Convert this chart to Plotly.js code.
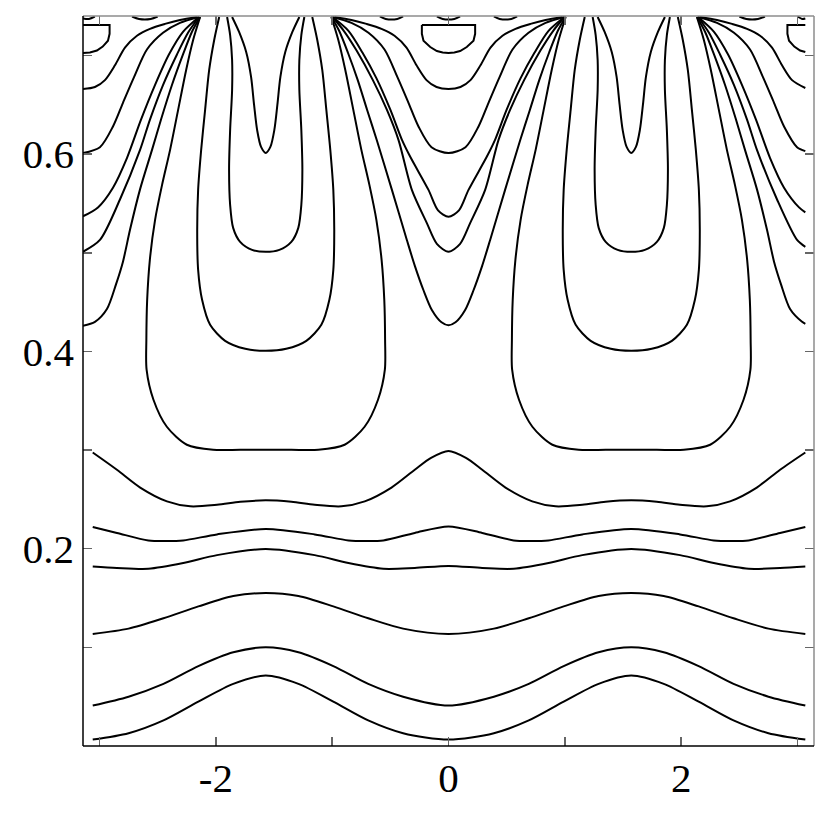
<!DOCTYPE html>
<html>
<head>
<meta charset="utf-8">
<script src="https://cdn.plot.ly/plotly-3.0.1.min.js"></script>
<style>
  html, body { margin: 0; padding: 0; background: #fff; }
  #chart { width: 830px; height: 830px; }
</style>
</head>
<body>
<div id="chart"></div>
<script>
// --- DATA: contour lines as [x, y] pairs ---

// wavy lines across the bottom
const wave1 = [[-3.058,0.0065],[-2.75,0.013],[-2.45,0.026],[-2.15,0.045],[-1.85,0.063],[-1.571,0.0715],[-1.29,0.063],[-0.99,0.045],[-0.69,0.026],[-0.39,0.013],[0,0.0065],[0.39,0.013],[0.69,0.026],[0.99,0.045],[1.29,0.063],[1.571,0.0715],[1.85,0.063],[2.15,0.045],[2.45,0.026],[2.75,0.013],[3.067,0.0065]];
const wave2 = [[-3.058,0.041],[-2.75,0.050],[-2.45,0.063],[-2.15,0.081],[-1.85,0.095],[-1.571,0.100],[-1.29,0.095],[-0.99,0.081],[-0.69,0.063],[-0.39,0.050],[0,0.041],[0.39,0.050],[0.69,0.063],[0.99,0.081],[1.29,0.095],[1.571,0.100],[1.85,0.095],[2.15,0.081],[2.45,0.063],[2.75,0.050],[3.067,0.041]];
const wave3 = [[-3.058,0.1136],[-2.75,0.119],[-2.45,0.1295],[-2.15,0.1415],[-1.85,0.152],[-1.571,0.155],[-1.29,0.152],[-0.99,0.1415],[-0.69,0.1295],[-0.39,0.119],[0,0.1135],[0.39,0.119],[0.69,0.1295],[0.99,0.1415],[1.29,0.152],[1.571,0.155],[1.85,0.152],[2.15,0.1415],[2.45,0.1295],[2.75,0.119],[3.067,0.1136]];
const wave4 = [[-3.058,0.182],[-2.85,0.1805],[-2.58,0.1797],[-2.28,0.1855],[-1.99,0.1935],[-1.571,0.1997],[-1.15,0.1935],[-0.86,0.1855],[-0.56,0.1797],[-0.29,0.1805],[0,0.1825],[0.29,0.1805],[0.56,0.1797],[0.86,0.1855],[1.15,0.1935],[1.571,0.1997],[1.99,0.1935],[2.28,0.1855],[2.58,0.1797],[2.85,0.1805],[3.067,0.182]];
const wave5 = [[-3.058,0.222],[-2.85,0.216],[-2.58,0.2084],[-2.43,0.2078],[-2.28,0.2084],[-1.99,0.2145],[-1.571,0.220],[-1.15,0.2145],[-0.86,0.2084],[-0.71,0.2078],[-0.56,0.2084],[-0.29,0.216],[0,0.2226],[0.29,0.216],[0.56,0.2084],[0.71,0.2078],[0.86,0.2084],[1.15,0.2145],[1.571,0.220],[1.99,0.2145],[2.28,0.2084],[2.43,0.2078],[2.58,0.2084],[2.85,0.216],[3.067,0.222]];
const wave6 = [[-3.058,0.2975],[-2.85,0.280],[-2.65,0.262],[-2.42,0.248],[-2.22,0.243],[-1.99,0.2445],[-1.79,0.2475],[-1.571,0.249],[-1.35,0.2475],[-1.15,0.2445],[-0.92,0.243],[-0.72,0.248],[-0.49,0.262],[-0.29,0.280],[-0.15,0.292],[0,0.299],[0.15,0.292],[0.29,0.280],[0.49,0.262],[0.72,0.248],[0.92,0.243],[1.15,0.2445],[1.35,0.2475],[1.571,0.249],[1.79,0.2475],[1.99,0.2445],[2.22,0.243],[2.42,0.248],[2.65,0.262],[2.85,0.280],[3.067,0.2975]];

// nested U shapes around x = -pi/2 and x = +pi/2
const u7West = [[-2.135,0.739],[-2.195,0.7157],[-2.255,0.6853],[-2.324,0.6448],[-2.393,0.6043],[-2.462,0.5688],[-2.522,0.5334],[-2.567,0.4928],[-2.590,0.4523],[-2.597,0.4118],[-2.595,0.3815],[-2.536,0.351],[-2.421,0.3236],[-2.249,0.3054],[-2.023,0.3003],[-1.791,0.3003],[-1.571,0.3003],[-1.351,0.3003],[-1.119,0.3003],[-0.893,0.3054],[-0.721,0.3236],[-0.606,0.351],[-0.547,0.3815],[-0.545,0.4118],[-0.552,0.4523],[-0.575,0.4928],[-0.620,0.5334],[-0.680,0.5688],[-0.749,0.6043],[-0.818,0.6448],[-0.887,0.6853],[-0.947,0.7157],[-1.007,0.739]];
const u7East = [[2.135,0.739],[2.195,0.7157],[2.255,0.6853],[2.324,0.6448],[2.393,0.6043],[2.462,0.5688],[2.522,0.5334],[2.567,0.4928],[2.590,0.4523],[2.597,0.4118],[2.595,0.3815],[2.536,0.351],[2.421,0.3236],[2.249,0.3054],[2.023,0.3003],[1.791,0.3003],[1.571,0.3003],[1.351,0.3003],[1.119,0.3003],[0.893,0.3054],[0.721,0.3236],[0.606,0.351],[0.547,0.3815],[0.545,0.4118],[0.552,0.4523],[0.575,0.4928],[0.620,0.5334],[0.680,0.5688],[0.749,0.6043],[0.818,0.6448],[0.887,0.6853],[0.947,0.7157],[1.007,0.739]];
const u8West = [[-1.971,0.739],[-2.014,0.7157],[-2.057,0.6853],[-2.092,0.6448],[-2.126,0.6043],[-2.152,0.5637],[-2.160,0.5232],[-2.152,0.4827],[-2.118,0.4523],[-2.049,0.4270],[-1.920,0.4107],[-1.747,0.4026],[-1.571,0.4006],[-1.395,0.4026],[-1.222,0.4107],[-1.093,0.4270],[-1.024,0.4523],[-0.990,0.4827],[-0.982,0.5232],[-0.990,0.5637],[-1.016,0.6043],[-1.050,0.6448],[-1.085,0.6853],[-1.128,0.7157],[-1.171,0.739]];
const u8East = [[1.971,0.739],[2.014,0.7157],[2.057,0.6853],[2.092,0.6448],[2.126,0.6043],[2.152,0.5637],[2.160,0.5232],[2.152,0.4827],[2.118,0.4523],[2.049,0.4270],[1.920,0.4107],[1.747,0.4026],[1.571,0.4006],[1.395,0.4026],[1.222,0.4107],[1.093,0.4270],[1.024,0.4523],[0.990,0.4827],[0.982,0.5232],[0.990,0.5637],[1.016,0.6043],[1.050,0.6448],[1.085,0.6853],[1.128,0.7157],[1.171,0.739]];
const u9West = [[-1.903,0.739],[-1.877,0.7207],[-1.860,0.6954],[-1.860,0.6650],[-1.877,0.6245],[-1.886,0.5840],[-1.877,0.5485],[-1.851,0.5252],[-1.791,0.5110],[-1.688,0.5029],[-1.571,0.5009],[-1.454,0.5029],[-1.351,0.5110],[-1.291,0.5252],[-1.265,0.5485],[-1.256,0.5840],[-1.265,0.6245],[-1.282,0.6650],[-1.282,0.6954],[-1.265,0.7207],[-1.239,0.739]];
const u9East = [[1.903,0.739],[1.877,0.7207],[1.860,0.6954],[1.860,0.6650],[1.877,0.6245],[1.886,0.5840],[1.877,0.5485],[1.851,0.5252],[1.791,0.5110],[1.688,0.5029],[1.571,0.5009],[1.454,0.5029],[1.351,0.5110],[1.291,0.5252],[1.265,0.5485],[1.256,0.5840],[1.265,0.6245],[1.282,0.6650],[1.282,0.6954],[1.265,0.7207],[1.239,0.739]];
const vWest = [[-1.860,0.739],[-1.800,0.7238],[-1.739,0.7035],[-1.697,0.6782],[-1.671,0.6498],[-1.645,0.6245],[-1.611,0.6073],[-1.571,0.6012],[-1.531,0.6073],[-1.497,0.6245],[-1.471,0.6498],[-1.445,0.6782],[-1.403,0.7035],[-1.342,0.7238],[-1.282,0.739]];
const vEast = [[1.860,0.739],[1.800,0.7238],[1.739,0.7035],[1.697,0.6782],[1.671,0.6498],[1.645,0.6245],[1.611,0.6073],[1.571,0.6012],[1.531,0.6073],[1.497,0.6245],[1.471,0.6498],[1.445,0.6782],[1.403,0.7035],[1.342,0.7238],[1.282,0.739]];

// half U shapes leaning on the left and right frame
const edge88West = [[-3.142,0.666],[-3.039,0.668],[-2.953,0.675],[-2.867,0.690],[-2.781,0.708],[-2.678,0.720],[-2.566,0.727],[-2.437,0.732],[-2.308,0.736],[-2.162,0.739]];
const edge88East = [[3.067,0.667],[2.953,0.675],[2.867,0.690],[2.781,0.708],[2.678,0.720],[2.566,0.727],[2.437,0.732],[2.308,0.736],[2.162,0.739]];
const edge153West = [[-3.142,0.601],[-2.996,0.607],[-2.884,0.628],[-2.798,0.652],[-2.703,0.678],[-2.592,0.706],[-2.454,0.723],[-2.308,0.733],[-2.145,0.739]];
const edge153East = [[3.067,0.603],[2.996,0.607],[2.884,0.628],[2.798,0.652],[2.703,0.678],[2.592,0.706],[2.454,0.723],[2.308,0.733],[2.145,0.739]];
const edge217West = [[-3.142,0.537],[-3.013,0.546],[-2.884,0.566],[-2.764,0.596],[-2.643,0.635],[-2.523,0.670],[-2.403,0.701],[-2.282,0.724],[-2.145,0.739]];
const edge217East = [[3.067,0.541],[3.013,0.546],[2.884,0.566],[2.764,0.596],[2.643,0.635],[2.523,0.670],[2.403,0.701],[2.282,0.724],[2.145,0.739]];
const edge252West = [[-3.142,0.501],[-2.996,0.513],[-2.824,0.554],[-2.652,0.604],[-2.566,0.635],[-2.454,0.670],[-2.334,0.701],[-2.239,0.723],[-2.145,0.739]];
const edge252East = [[3.067,0.506],[2.996,0.513],[2.824,0.554],[2.652,0.604],[2.566,0.635],[2.454,0.670],[2.334,0.701],[2.239,0.723],[2.145,0.739]];
const edge326West = [[-3.142,0.426],[-3.039,0.430],[-2.936,0.443],[-2.858,0.468],[-2.798,0.491],[-2.738,0.523],[-2.652,0.564],[-2.549,0.604],[-2.471,0.635],[-2.377,0.670],[-2.282,0.701],[-2.205,0.724],[-2.136,0.739]];
const edge326East = [[3.067,0.428],[3.039,0.430],[2.936,0.443],[2.858,0.468],[2.798,0.491],[2.738,0.523],[2.652,0.564],[2.549,0.604],[2.471,0.635],[2.377,0.670],[2.282,0.701],[2.205,0.724],[2.136,0.739]];

// U shapes around x = 0
const mid88 = [[-0.980,0.739],[-0.834,0.736],[-0.705,0.732],[-0.576,0.727],[-0.464,0.720],[-0.361,0.708],[-0.275,0.690],[-0.189,0.675],[-0.103,0.668],[0,0.666],[0.103,0.668],[0.189,0.675],[0.275,0.690],[0.361,0.708],[0.464,0.720],[0.576,0.727],[0.705,0.732],[0.834,0.736],[0.980,0.739]];
const mid153 = [[-0.997,0.739],[-0.834,0.733],[-0.688,0.723],[-0.550,0.706],[-0.439,0.678],[-0.344,0.652],[-0.258,0.628],[-0.146,0.607],[0,0.601],[0.146,0.607],[0.258,0.628],[0.344,0.652],[0.439,0.678],[0.550,0.706],[0.688,0.723],[0.834,0.733],[0.997,0.739]];
const mid217 = [[-0.997,0.739],[-0.86,0.725],[-0.74,0.703],[-0.62,0.677],[-0.50,0.645],[-0.40,0.6144],[-0.33,0.5975],[-0.172,0.5637],[-0.09,0.543],[0,0.5365],[0.09,0.543],[0.172,0.5637],[0.33,0.5975],[0.40,0.6144],[0.50,0.645],[0.62,0.677],[0.74,0.703],[0.86,0.725],[0.997,0.739]];
const mid252 = [[-0.997,0.739],[-0.90,0.725],[-0.79,0.705],[-0.65,0.675],[-0.53,0.645],[-0.43,0.6144],[-0.315,0.5637],[-0.186,0.530],[-0.10,0.509],[0,0.501],[0.10,0.509],[0.186,0.530],[0.315,0.5637],[0.43,0.6144],[0.53,0.645],[0.65,0.675],[0.79,0.705],[0.90,0.725],[0.997,0.739]];
const mid325 = [[-1.006,0.739],[-0.94,0.725],[-0.865,0.703],[-0.78,0.675],[-0.70,0.645],[-0.616,0.614],[-0.487,0.564],[-0.358,0.513],[-0.29,0.487],[-0.215,0.462],[-0.143,0.442],[-0.06,0.4295],[0,0.4265],[0.06,0.4295],[0.143,0.442],[0.215,0.462],[0.29,0.487],[0.358,0.513],[0.487,0.564],[0.616,0.614],[0.70,0.645],[0.78,0.675],[0.865,0.703],[0.94,0.725],[1.006,0.739]];

// small closed caps under the top edge
const capWest = [[-3.142,0.7025],[-3.082,0.703],[-3.022,0.705],[-2.972,0.709],[-2.927,0.715],[-2.913,0.722],[-2.913,0.731],[-3.142,0.731]];
const capMid = [[-0.229,0.731],[-0.229,0.722],[-0.215,0.715],[-0.157,0.7086],[-0.10,0.7045],[-0.05,0.703],[0,0.7025],[0.05,0.703],[0.10,0.7045],[0.157,0.7086],[0.215,0.715],[0.229,0.722],[0.229,0.731],[-0.229,0.731]];
const capEast = [[3.067,0.7035],[3.022,0.705],[2.972,0.709],[2.927,0.715],[2.913,0.722],[2.913,0.731],[3.067,0.731]];

// slivers hugging the top edge
const sliverA = [[-3.142,0.7375],[-3.09,0.737],[-3.04,0.7395]];
const sliverB = [[-2.72,0.7395],[-2.66,0.737],[-2.56,0.737],[-2.50,0.7395]];
const sliverC = [[-0.59,0.7395],[-0.54,0.737],[-0.44,0.737],[-0.39,0.7395]];
const sliverD = [[-0.10,0.7395],[-0.05,0.737],[0.05,0.737],[0.10,0.7395]];
const sliverE = [[0.39,0.7395],[0.44,0.737],[0.54,0.737],[0.59,0.7395]];
const sliverF = [[2.50,0.7395],[2.56,0.737],[2.66,0.737],[2.72,0.7395]];
const sliverG = [[3.00,0.7395],[3.04,0.737],[3.067,0.7375]];

// axes
const xTickVals = [-3, -2, -1, 0, 1, 2, 3];
const xTickText = ['', '-2', '', '0', '', '2', ''];
const yTickVals = [0.1, 0.2, 0.3, 0.4, 0.5, 0.6, 0.7];
const yTickText = ['', '0.2', '', '0.4', '', '0.6', ''];

// =================================================================
// TRACES
// =================================================================
const smoothLines = [
    wave1, wave2, wave3, wave4, wave5, wave6,
    u7West, u7East, u8West, u8East, u9West, u9East, vWest, vEast,
    edge88West, edge88East, edge153West, edge153East, edge217West, edge217East,
    edge252West, edge252East, edge326West, edge326East,
    mid88, mid153, mid217, mid252, mid325,
    sliverA, sliverB, sliverC, sliverD, sliverE, sliverF, sliverG
];
const sharpLines = [capWest, capMid, capEast];

function lineTrace(points, shape) {
    return {
        x: points.map(p => p[0]),
        y: points.map(p => p[1]),
        type: 'scatter',
        mode: 'lines',
        line: { color: '#000', width: 2, shape: shape, smoothing: 0.8 },
        hoverinfo: 'skip',
        showlegend: false
    };
}

const traces = [
    ...smoothLines.map(p => lineTrace(p, 'spline')),
    ...sharpLines.map(p => lineTrace(p, 'linear'))
];

// =================================================================
// LAYOUT
// =================================================================
const tickFont = { family: '"Liberation Serif", "Times New Roman", serif', size: 41, color: '#000' };

const layout = {
    width: 830,
    height: 830,
    margin: { l: 83, r: 16, t: 16, b: 84 },
    paper_bgcolor: '#fff',
    plot_bgcolor: '#fff',
    xaxis: {
        range: [-Math.PI, Math.PI],
        tickvals: xTickVals,
        ticktext: xTickText,
        ticks: 'inside',
        ticklen: 9,
        tickwidth: 1.5,
        tickcolor: '#666',
        mirror: 'ticks',
        showline: false,
        showgrid: false,
        zeroline: false,
        tickfont: tickFont,
        ticklabelstandoff: 4
    },
    yaxis: {
        range: [0, 0.74],
        tickvals: yTickVals,
        ticktext: yTickText,
        ticks: 'inside',
        ticklen: 9,
        tickwidth: 1.5,
        tickcolor: '#666',
        mirror: 'ticks',
        showline: false,
        showgrid: false,
        zeroline: false,
        tickfont: tickFont,
        ticklabelstandoff: 8
    },
    shapes: [
        { type: 'line', xref: 'paper', yref: 'paper', x0: 0, x1: 1, y0: 1, y1: 1, line: { color: '#8c8c8c', width: 1.5 } },
        { type: 'line', xref: 'paper', yref: 'paper', x0: 1, x1: 1, y0: 0, y1: 1, line: { color: '#8c8c8c', width: 1.5 } },
        { type: 'line', xref: 'paper', yref: 'paper', x0: 0, x1: 1, y0: 0, y1: 0, line: { color: '#000', width: 1.5 } },
        { type: 'line', xref: 'paper', yref: 'paper', x0: 0, x1: 0, y0: 0, y1: 1, line: { color: '#000', width: 1.5 } }
    ]
};

Plotly.newPlot('chart', traces, layout, { displayModeBar: false, staticPlot: true });
</script>
</body>
</html>
